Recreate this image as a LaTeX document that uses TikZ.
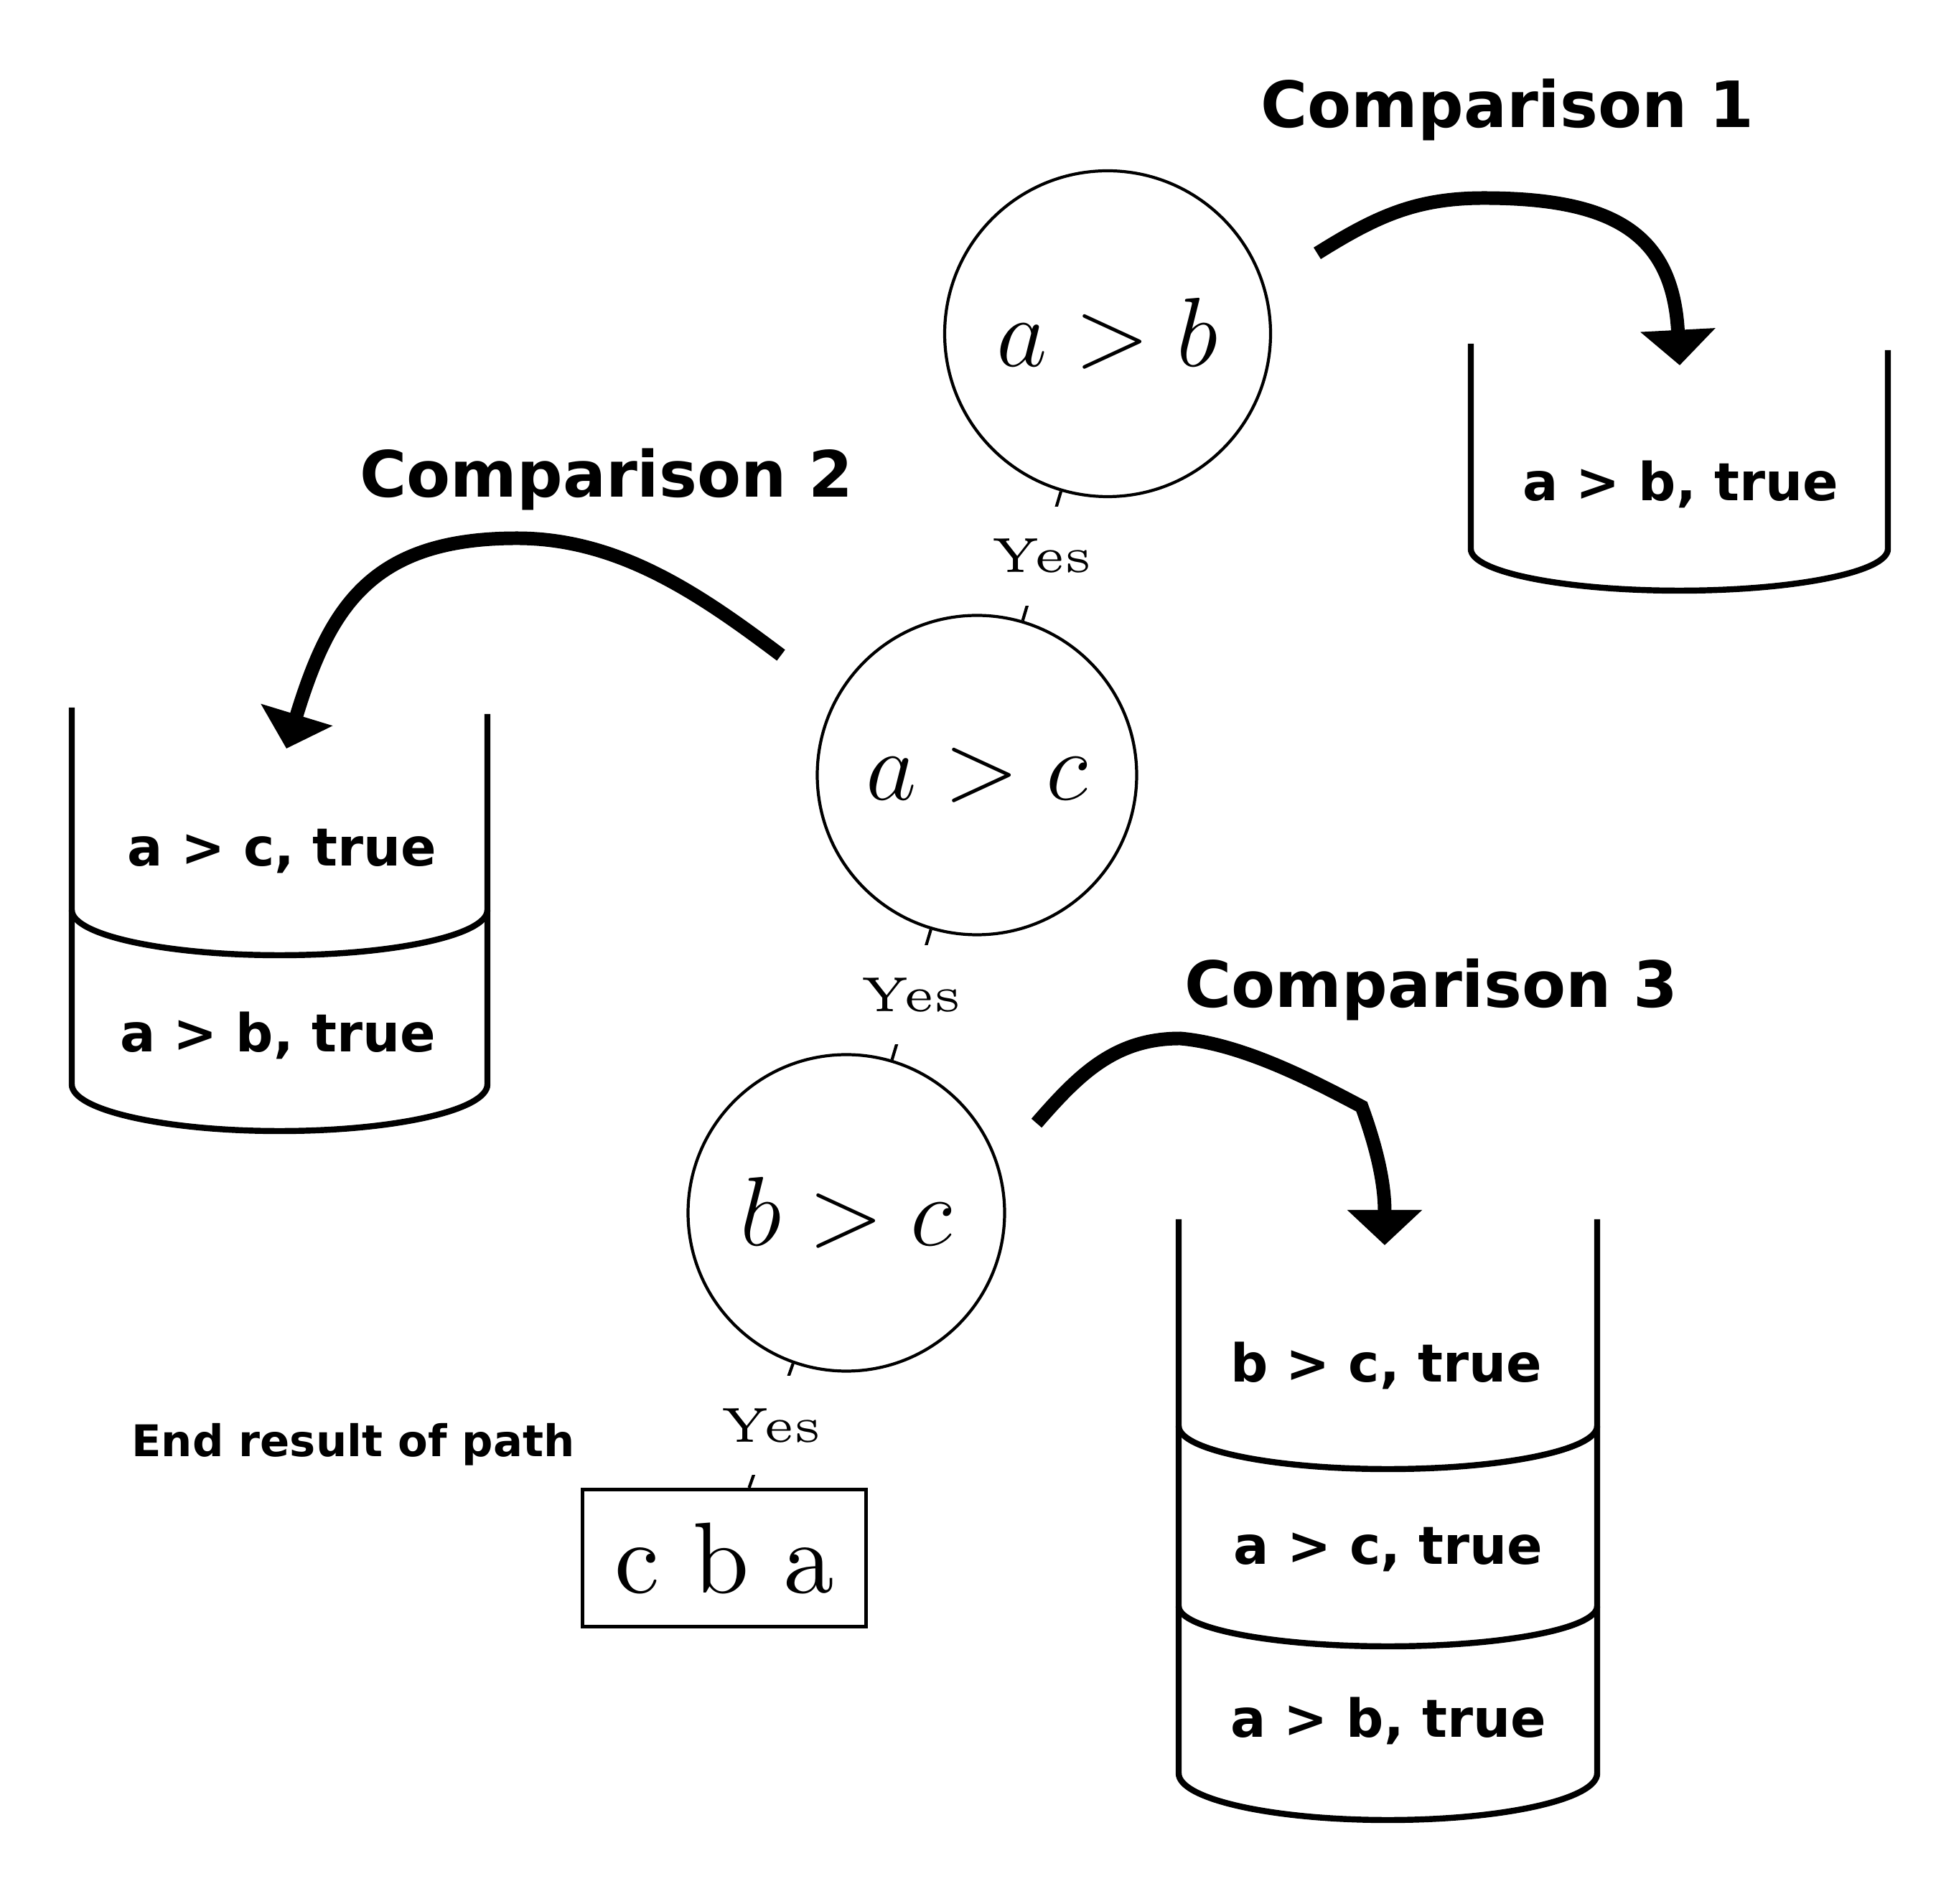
\RequirePackage{fix-cm}
\documentclass[tikz,border=0pt]{standalone}
\usepackage{fontspec}
\newfontfamily\labelfont{DejaVu Sans}
\font\yesfont=cmr5 at 19.5pt
\font\cbafont=cmr10 at 40pt
\usepackage{tikz}
\usetikzlibrary{arrows.meta}

\tikzset{
  cmpnode/.style={circle, draw, line width=1.2pt, inner sep=0pt, font=\fontsize{39}{47}\selectfont},
  yesedge/.style={line width=1.2pt},
  yeslabel/.style={fill=white, inner xsep=4pt, inner ysep=13pt, font=\yesfont},
  resultbox/.style={draw, line width=1.4pt, minimum width=3.95cm, minimum height=1.91cm, inner sep=0pt, font=\cbafont},
  stackwall/.style={line width=2.4pt},
  stacktext/.style={anchor=base, font=\labelfont\bfseries\fontsize{20.8}{25}\selectfont},
  titletext/.style={anchor=base, font=\labelfont\bfseries\fontsize{25.3}{30}\selectfont},
  pusharrow/.style={line width=5.4pt, -{Triangle[width=29pt,length=14pt]}},
}

\begin{document}
\begin{tikzpicture}
    \useasboundingbox (0,0) rectangle (27.04,26.52);

    \node[cmpnode, minimum size=4.54cm] (cmpab) at (15.43,21.87) {$a>b$};
    \node[cmpnode, minimum size=4.45cm] (cmpac) at (13.61,15.72) {$a>c$};
    \node[cmpnode, minimum size=4.41cm] (cmpbc) at (11.79,9.62) {$b>c$};
    \node[resultbox] (result) at (10.09,4.81) {c b a};

    \draw[yesedge] (cmpab) -- node[yeslabel] {Yes} (cmpac);
    \draw[yesedge] (cmpac) -- node[yeslabel] {Yes} (cmpbc);
    \draw[yesedge] (cmpbc) -- node[yeslabel] {Yes} (result);

    \node[titletext] (title1) at (21.00,24.74) {Comparison 1};
    \node[titletext] (title2) at (8.45,19.59) {Comparison 2};
    \node[titletext] (title3) at (19.94,12.48) {Comparison 3};
    \node[anchor=base, font=\labelfont\bfseries\fontsize{17.3}{21}\selectfont] (endnote) at (4.92,6.22) {End result of path};

    \draw[stackwall] (20.49,21.73) -- (20.49,18.87) arc[start angle=180, end angle=360, x radius=2.905, y radius=0.58] -- (26.30,21.64);
    \node[stacktext] (stk1a) at (23.41,19.54) {a > b, true};

    \draw[stackwall] (1.00,16.66) -- (1.00,11.41) arc[start angle=180, end angle=360, x radius=2.895, y radius=0.65] -- (6.79,16.57);
    \draw[stackwall] (1.00,13.84) arc[start angle=180, end angle=360, x radius=2.895, y radius=0.63];
    \node[stacktext] (stk2a) at (3.93,14.45) {a > c, true};
    \node[stacktext] (stk2b) at (3.87,11.86) {a > b, true};

    \draw[stackwall] (16.42,9.53) -- (16.42,1.81) arc[start angle=180, end angle=360, x radius=2.915, y radius=0.65] -- (22.25,9.53);
    \draw[stackwall] (16.42,6.65) arc[start angle=180, end angle=360, x radius=2.915, y radius=0.60];
    \draw[stackwall] (16.42,4.14) arc[start angle=180, end angle=360, x radius=2.915, y radius=0.56];
    \node[stacktext] (stk3a) at (19.31,7.26) {b > c, true};
    \node[stacktext] (stk3b) at (19.34,4.72) {a > c, true};
    \node[stacktext] (stk3c) at (19.34,2.31) {a > b, true};

    \coordinate (arr1s) at (18.35,22.99);
    \coordinate (arr1p) at (20.67,23.76);
    \coordinate (arr1t) at (23.40,21.43);
    \coordinate (arr2s) at (10.88,17.39);
    \coordinate (arr2p) at (7.20,19.02);
    \coordinate (arr2t) at (3.99,16.09);
    \coordinate (arr3s) at (14.44,10.87);
    \coordinate (arr3p) at (16.44,12.05);
    \coordinate (arr3k) at (18.97,11.10);
    \coordinate (arr3t) at (19.29,9.17);

    \draw[pusharrow] (arr1s) to[out=32, in=180] (arr1p) to[out=0, in=93, looseness=1.3] (arr1t);
    \draw[pusharrow] (arr2s) to[out=143, in=0, looseness=0.9] (arr2p) to[out=180, in=73, looseness=1.2] (arr2t);
    \draw[pusharrow] (arr3s) to[out=49, in=180] (arr3p) to[out=-5, in=152, looseness=0.8] (arr3k) to[out=-70, in=90] (arr3t);
\end{tikzpicture}
\end{document}
